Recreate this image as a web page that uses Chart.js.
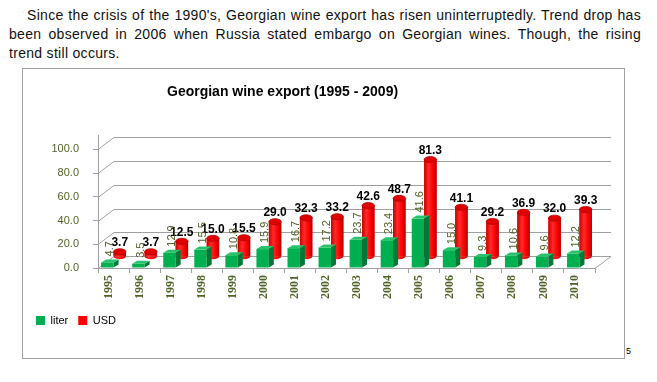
<!DOCTYPE html>
<html>
<head>
<meta charset="utf-8">
<script src="https://cdn.jsdelivr.net/npm/chart.js@4.4.1/dist/chart.umd.min.js"></script>
<style>
  body { margin: 0; background: #fff; font-family: "Liberation Sans", Arial, sans-serif; }
  .intro {
    position: absolute; left: 9px; top: 6px; width: 632px;
    font-size: 14px; letter-spacing: 0.3px; line-height: 19px; color: #111;
  }
  .intro .full { text-align: justify; text-align-last: justify; white-space: nowrap; }
  .intro .first { padding-left: 18px; }
  .frame {
    position: absolute; left: 22px; top: 68px; width: 603px; height: 291px;
    border: 1px solid #a0a0a0; box-sizing: border-box;
  }
  .frame canvas { position: absolute; left: 0; top: 0; }
  .title {
    position: absolute; left: 144px; top: 14px;
    font-size: 14px; font-weight: bold; color: #000; white-space: nowrap;
  }
  .page-no { position: absolute; left: 626px; top: 346px; font-size: 9px; color: #000; }
</style>
</head>
<body>
<div class="intro">
  <div class="full first">Since the crisis of the 1990's, Georgian wine export has risen uninterruptedly. Trend drop has</div>
  <div class="full">been observed in 2006 when Russia stated embargo on Georgian wines. Though, the rising</div>
  <div>trend still occurs.</div>
</div>
<div class="frame">
  <canvas id="wine" width="601" height="289"></canvas>
  <div class="title">Georgian wine export (1995 - 2009)</div>
</div>
<div class="page-no">5</div>
<script>
const years = ["1995", "1996", "1997", "1998", "1999", "2000", "2001", "2002",
               "2003", "2004", "2005", "2006", "2007", "2008", "2009", "2010"];
const literValues = [4.7, 3.5, 12.9, 15.5, 10.8, 15.9, 16.7, 17.2, 23.7, 23.4, 41.6, 15.0, 9.3, 10.6, 9.6, 12.2];
const usdValues = [3.7, 3.7, 12.5, 15.0, 15.5, 29.0, 32.3, 33.2, 42.6, 48.7, 81.3, 41.1, 29.2, 36.9, 32.0, 39.3];
const yTicks = [0, 20, 40, 60, 80, 100];

const DEPTH = 16;      // depth of the back wall
const BAR_DX = 5;      // side face of the green boxes
const BAR_DY = 3;

// back wall + floor, drawn from the two y scales
const wallPlugin = {
  id: "wall",
  beforeDatasetsDraw(chart) {
    const { ctx, chartArea: a, scales } = chart;
    const yf = scales.y, yb = scales.y2;
    ctx.save();
    ctx.strokeStyle = "#a0a0a0";
    ctx.lineWidth = 1;
    yTicks.forEach(v => {
      const f = Math.round(yf.getPixelForValue(v)) + 0.5;
      const b = Math.round(yb.getPixelForValue(v)) + 0.5;
      ctx.beginPath();
      ctx.moveTo(a.left, f);
      ctx.lineTo(a.left + DEPTH, b);
      ctx.lineTo(a.right + DEPTH, b);
      ctx.stroke();
    });
    const f0 = Math.round(yf.getPixelForValue(0)) + 0.5;
    const b0 = Math.round(yb.getPixelForValue(0)) + 0.5;
    ctx.beginPath();
    ctx.moveTo(a.right, f0);
    ctx.lineTo(a.right + DEPTH, b0);
    ctx.stroke();
    ctx.restore();
  }
};

// pseudo 3d faces on top of each bar dataset
const faces3d = {
  id: "faces3d",
  afterDatasetDraw(chart, args) {
    const ctx = chart.ctx;
    const meta = chart.getDatasetMeta(args.index);
    ctx.save();
    meta.data.forEach(bar => {
      const { x, y, base, width } = bar.getProps(["x", "y", "base", "width"], true);
      const l = x - width / 2, r = x + width / 2;
      if (args.index === 1) {
        // red cylinder
        const g = ctx.createLinearGradient(l, 0, r, 0);
        g.addColorStop(0, "#c80000");
        g.addColorStop(0.35, "#ff2a2a");
        g.addColorStop(0.7, "#ff0000");
        g.addColorStop(1, "#b00000");
        ctx.fillStyle = g;
        ctx.beginPath();
        ctx.ellipse(x, base, width / 2, 3, 0, 0, Math.PI);
        ctx.fill();
        ctx.fillRect(l, y, width, base - y);
        ctx.fillStyle = "#e00000";
        ctx.beginPath();
        ctx.ellipse(x, y, width / 2, 3, 0, 0, Math.PI * 2);
        ctx.fill();
        ctx.strokeStyle = "#b00000";
        ctx.lineWidth = 0.8;
        ctx.stroke();
      } else {
        // green box
        ctx.fillStyle = "#007a36";
        ctx.beginPath();
        ctx.moveTo(r, y);
        ctx.lineTo(r + BAR_DX, y - BAR_DY);
        ctx.lineTo(r + BAR_DX, base - BAR_DY);
        ctx.lineTo(r, base);
        ctx.closePath();
        ctx.fill();
        ctx.fillStyle = "#27c26a";
        ctx.beginPath();
        ctx.moveTo(l, y);
        ctx.lineTo(l + BAR_DX, y - BAR_DY);
        ctx.lineTo(r + BAR_DX, y - BAR_DY);
        ctx.lineTo(r, y);
        ctx.closePath();
        ctx.fill();
      }
    });
    ctx.restore();
  }
};

// value labels
const valueLabels = {
  id: "valueLabels",
  afterDatasetsDraw(chart) {
    const ctx = chart.ctx;
    ctx.save();
    chart.getDatasetMeta(1).data.forEach((bar, i) => {
      ctx.font = "bold 12px 'Liberation Sans', Arial, sans-serif";
      ctx.fillStyle = "#000";
      ctx.textAlign = "center";
      ctx.textBaseline = "bottom";
      ctx.fillText(usdValues[i].toFixed(1), bar.x, bar.y - 3);
    });
    chart.getDatasetMeta(0).data.forEach((bar, i) => {
      ctx.save();
      ctx.translate(bar.x + BAR_DX / 2, bar.y - BAR_DY - 3);
      ctx.rotate(-Math.PI / 2);
      ctx.font = "11px 'Liberation Sans', Arial, sans-serif";
      ctx.fillStyle = "#4f6228";
      ctx.textAlign = "left";
      ctx.textBaseline = "middle";
      ctx.fillText(literValues[i].toFixed(1), 0, 0);
      ctx.restore();
    });
    ctx.restore();
  }
};

new Chart(document.getElementById("wine"), {
  type: "bar",
  data: {
    labels: years,
    datasets: [
      { label: "liter", data: literValues, yAxisID: "y", backgroundColor: "#00b050" },
      { label: "USD", data: usdValues, yAxisID: "y2", backgroundColor: "#ff0000" }
    ]
  },
  options: {
    responsive: false,
    animation: false,
    categoryPercentage: 0.8,
    barPercentage: 1.0,
    layout: { padding: { left: 3, right: 29, top: 66, bottom: 22 } },
    plugins: {
      tooltip: { enabled: false },
      legend: {
        position: "bottom",
        align: "start",
        labels: {
          boxWidth: 9, boxHeight: 9, padding: 10, color: "#000",
          font: { size: 11, family: "'Liberation Sans', Arial, sans-serif" }
        }
      }
    },
    scales: {
      x: {
        afterFit: axis => { axis.height += 4; },
        grid: { offset: true, drawOnChartArea: false, drawTicks: true, tickLength: 5, color: "#a0a0a0" },
        border: { color: "#a0a0a0" },
        ticks: {
          minRotation: 90, maxRotation: 90, labelOffset: -5, padding: 2, color: "#4f6228",
          font: { size: 12, weight: "bold", family: "'Liberation Serif', 'Times New Roman', serif" }
        }
      },
      y: {
        min: 0, max: 112,
        afterBuildTicks: axis => { axis.ticks = yTicks.map(v => ({ value: v })); },
        afterFit: axis => { axis.width = 72; },
        grid: { drawOnChartArea: false, drawTicks: true, tickLength: 5, color: "#a0a0a0" },
        border: { color: "#a0a0a0" },
        ticks: {
          padding: 14, color: "#4f6228",
          font: { size: 11, family: "'Liberation Sans', Arial, sans-serif" },
          callback: v => v.toFixed(1)
        }
      },
      y2: {
        display: false,
        min: -10, max: 102
      }
    }
  },
  plugins: [wallPlugin, faces3d, valueLabels]
});
</script>
</body>
</html>
